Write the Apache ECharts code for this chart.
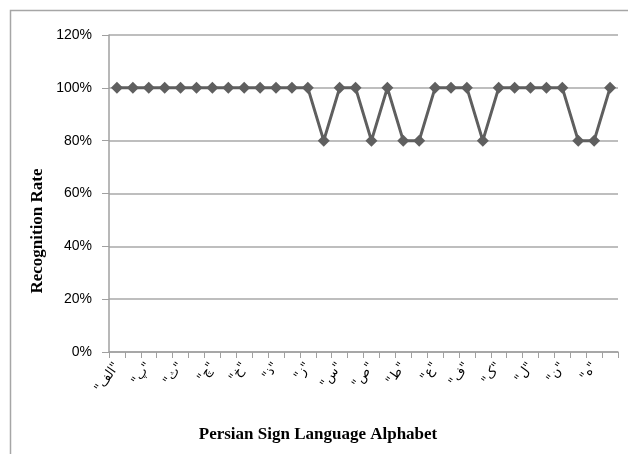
<!DOCTYPE html>
<html><head><meta charset="utf-8">
<script src="https://cdn.jsdelivr.net/npm/echarts@6/dist/echarts.min.js"></script>
<style>html,body{margin:0;padding:0;background:#fff}#c{width:628px;height:454px}</style>
</head><body><div id="c"></div>
<script>
const categories = ['"الف"','"ب"','"پ"','"ت"','"ث"','"ج"','"چ"','"ح"','"خ"','"د"','"ذ"','"ر"','"ز"','"ژ"','"س"','"ش"','"ص"','"ض"','"ط"','"ظ"','"ع"','"غ"','"ف"','"ق"','"ک"','"گ"','"ل"','"م"','"ن"','"و"','"ه"','"ی"'];
const recognitionRate = [1,1,1,1,1,1,1,1,1,1,1,1,1,0.8,1,1,0.8,1,0.8,0.8,1,1,1,0.8,1,1,1,1,1,0.8,0.8,1];
const xTitle = 'Persian Sign Language Alphabet';
const yTitle = 'Recognition Rate';

const chart = echarts.init(document.getElementById('c'));
chart.setOption({
  animation: false,
  graphic: [
    {type:'rect', shape:{x:10.5,y:10.5,width:700,height:500}, style:{fill:'none', stroke:'#a6a6a6', lineWidth:1.5}},
    {type:'text', x:318, y:435, style:{text:xTitle, fontFamily:'Liberation Serif', fontWeight:'bold', fontSize:17, fill:'#000', textAlign:'center', textVerticalAlign:'middle'}},
    {type:'text', x:38, y:231, rotation:Math.PI/2, style:{text:yTitle, fontFamily:'Liberation Serif', fontWeight:'bold', fontSize:17, fill:'#000', textAlign:'center', textVerticalAlign:'middle'}}
  ],
  grid: {left:109, right:10, top:35, bottom:102},
  xAxis: {
    type:'category', data:categories, boundaryGap:true,
    axisLine:{lineStyle:{color:'#a0a0a0', width:1.5}},
    axisTick:{show:true, alignWithLabel:false, interval:0, length:6, lineStyle:{color:'#a0a0a0'}},
    axisLabel:{interval:1, rotate:55, fontFamily:'DejaVu Sans', fontSize:13, color:'#000', margin:12}
  },
  yAxis: {
    type:'value', min:0, max:1.2, interval:0.2,
    axisLine:{show:true, lineStyle:{color:'#a0a0a0', width:1.5}},
    axisTick:{show:true, length:7, lineStyle:{color:'#a0a0a0'}},
    axisLabel:{formatter: v => Math.round(v*100)+'%', fontFamily:'Liberation Sans Narrow, Liberation Sans', fontSize:14, color:'#000', margin:17},
    splitLine:{lineStyle:{color:'#a8a8a8', width:1.5}}
  },
  series: [{
    type:'line', data:recognitionRate, symbol:'diamond', symbolSize:12, showAllSymbol:true,
    lineStyle:{color:'#5f5f5f', width:3}, itemStyle:{color:'#5f5f5f'}
  }]
});
</script></body></html>
